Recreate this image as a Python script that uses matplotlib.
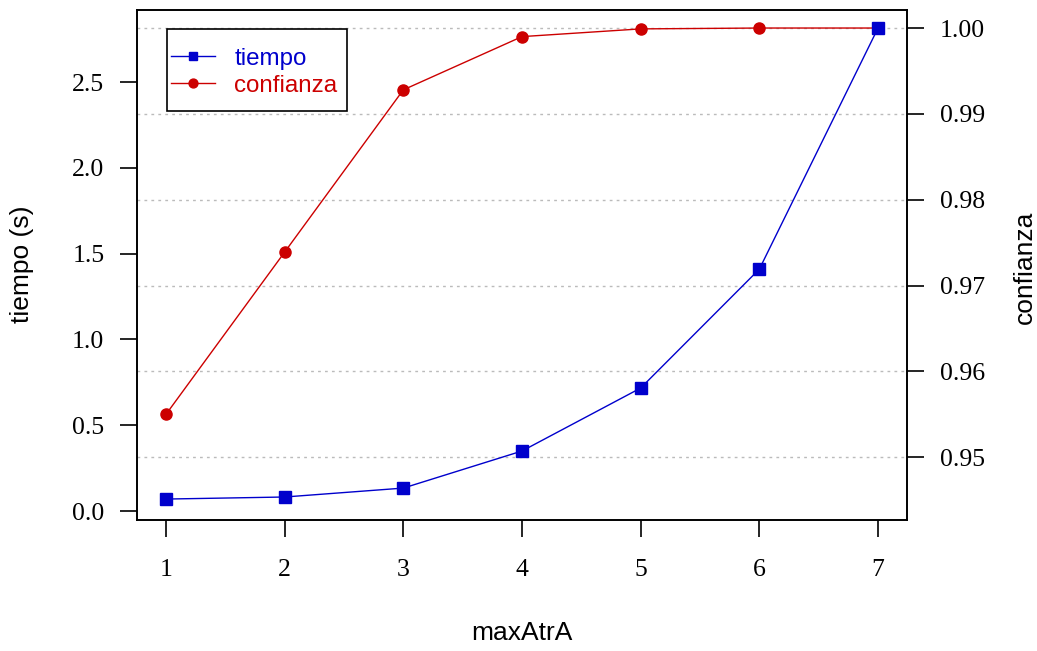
import numpy as np
import matplotlib.pyplot as plt
from matplotlib.patches import Rectangle

max_atr = [1, 2, 3, 4, 5, 6, 7]
tiempo = [0.07, 0.082, 0.134, 0.35, 0.717, 1.41, 2.815]
confianza = [0.955, 0.9739, 0.9928, 0.9990, 0.9999, 1.0, 1.0]

left_ticks = [0.0, 0.5, 1.0, 1.5, 2.0, 2.5]
right_ticks = [0.95, 0.96, 0.97, 0.98, 0.99, 1.00]

blue = "#0000CC"
red = "#CC0000"
serif = "Liberation Serif"
sans = "Liberation Sans"

fig = plt.figure(figsize=(10.37, 6.51), dpi=100)
W, H = 1037, 651
ax1 = fig.add_axes([137 / W, (H - 520) / H, (907 - 137) / W, (520 - 10) / H])
ax2 = ax1.twinx()

# grid follows the right axis ticks
for v in right_ticks:
    ax2.axhline(v, color="#BBBBBB", linestyle=(0, (2, 3)), linewidth=1.0, zorder=0)

l2, = ax2.plot(max_atr, confianza, color=red, linewidth=1.0, marker="o",
               markersize=8, markeredgecolor=red, label="confianza", zorder=2)
l1, = ax1.plot(max_atr, tiempo, color=blue, linewidth=1.0, marker="s",
               markersize=8, markeredgecolor=blue, label="tiempo", zorder=3)

ax1.set_zorder(ax2.get_zorder() + 1)
ax1.patch.set_visible(False)

ax1.set_xlim(0.756, 7.244)
ax1.set_ylim(-0.052, 2.92)
ax2.set_ylim(0.9427, 1.0021)

fs_tick = 18.5
ax1.set_xticks(max_atr)
ax1.set_xticklabels([str(v) for v in max_atr], family=serif, fontsize=fs_tick)
ax1.set_yticks(left_ticks)
ax1.set_yticklabels([f"{v:.1f}" for v in left_ticks], family=serif, fontsize=fs_tick)
ax2.set_yticks(right_ticks)
ax2.set_yticklabels([f"{v:.2f}" for v in right_ticks], family=serif, fontsize=fs_tick)

ax1.tick_params(axis="x", length=12, width=1.2, pad=16)
ax1.tick_params(axis="y", length=12, width=1.2, pad=11.5)
ax2.tick_params(axis="y", length=12, width=1.2, pad=11.5)

for ax in (ax1, ax2):
    for sp in ax.spines.values():
        sp.set_linewidth(1.2)

fs_lab = 19
fig.text(522 / W, 1 - 633 / H, "maxAtrA", family=sans, fontsize=fs_lab,
         ha="center", va="center")
fig.text(22 / W, 1 - 264 / H, "tiempo (s)", family=sans, fontsize=fs_lab,
         ha="center", va="center", rotation=90)
fig.text(1025 / W, 1 - 267 / H, "confianza", family=sans, fontsize=fs_lab,
         ha="center", va="center", rotation=90)

# legend box is drawn separately: R pads it more vertically than sideways
ax1.add_patch(Rectangle((0.039, 0.802), 0.234, 0.161, transform=ax1.transAxes,
                        facecolor="white", edgecolor="black", linewidth=1.2,
                        zorder=4))
leg = ax1.legend(handles=[l1, l2], loc="center left", bbox_to_anchor=(0.0377, 0.878),
                 prop={"family": sans, "size": 17.4}, frameon=False,
                 borderpad=0.2, handlelength=1.82, handletextpad=0.8,
                 labelspacing=0.2, borderaxespad=0, markerscale=0.8)
leg.set_zorder(5)
for txt, c in zip(leg.get_texts(), [blue, red]):
    txt.set_color(c)

fig.savefig("out.png", dpi=100)
